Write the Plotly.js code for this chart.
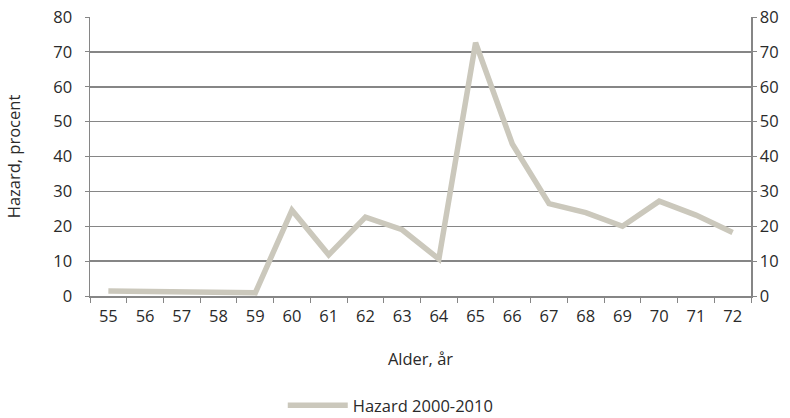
<!DOCTYPE html>
<html>
<head>
<meta charset="utf-8">
<script src="https://cdn.plot.ly/plotly-3.0.1.min.js"></script>
<style>html,body{margin:0;padding:0;background:#fff;}#chart{width:790px;height:418px;}</style>
</head>
<body>
<div id="chart"></div>
<script>
const ages = ["55","56","57","58","59","60","61","62","63","64","65","66","67","68","69","70","71","72"];
const hazard = [1.4, 1.2, 1.1, 1.0, 0.9, 24.6, 11.8, 22.6, 19.0, 10.6, 72.6, 43.6, 26.5, 23.9, 20.0, 27.2, 23.2, 18.2];
const seriesName = "Hazard 2000-2010";
const yTicks = [0,10,20,30,40,50,60,70,80];

const font = {family: "'Open Sans', Roboto, sans-serif", size: 16.5, color: "#2a2a2a"};
const axisCol = "#868686";

const data = [
  {x: ages, y: hazard, type: "scatter", mode: "lines", name: seriesName,
   line: {color: "#cbc8bc", width: 5.5}, xaxis: "x", yaxis: "y"},
  {x: ages, y: hazard, type: "scatter", mode: "lines", showlegend: false, hoverinfo: "skip",
   line: {color: "rgba(0,0,0,0)", width: 0}, xaxis: "x", yaxis: "y2"}
];

const layout = {
  width: 790, height: 418,
  margin: {l: 89.5, r: 38.5, t: 16.7, b: 122, autoexpand: false},
  paper_bgcolor: "#fff", plot_bgcolor: "#fff",
  font: font,
  showlegend: true,
  legend: {orientation: "h", x: 0.455, xanchor: "center", y: -0.33, yanchor: "top", font: font,
           itemwidth: 60},
  xaxis: {
    type: "category", range: [-0.5, 17.5], tickson: "boundaries", ticks: "outside", ticklen: 5, tickcolor: axisCol,
    showline: true, linecolor: axisCol, linewidth: 1.5, showgrid: false, zeroline: false,
    tickfont: font, automargin: false, ticklabelstandoff: 5,
    title: {text: "Alder, år", font: font, standoff: 27}
  },
  yaxis: {
    range: [0, 80], tickvals: yTicks, ticks: "outside", ticklen: 4, tickcolor: axisCol,
    showline: true, linecolor: axisCol, linewidth: 1.5, automargin: false,
    showgrid: true, gridcolor: axisCol, gridwidth: 1.5, zeroline: false,
    tickfont: font, ticklabelstandoff: 9,
    title: {text: "Hazard, procent", font: font, standoff: 28}
  },
  yaxis2: {
    range: [0, 80], tickvals: yTicks, overlaying: "y", side: "right", anchor: "x",
    ticks: "outside", ticklen: 4, tickcolor: axisCol, automargin: false,
    showline: true, linecolor: axisCol, linewidth: 1.5, showgrid: false, zeroline: false,
    tickfont: font, ticklabelstandoff: 0
  }
};

Plotly.newPlot("chart", data, layout, {displayModeBar: false, staticPlot: true});
</script>
</body>
</html>
